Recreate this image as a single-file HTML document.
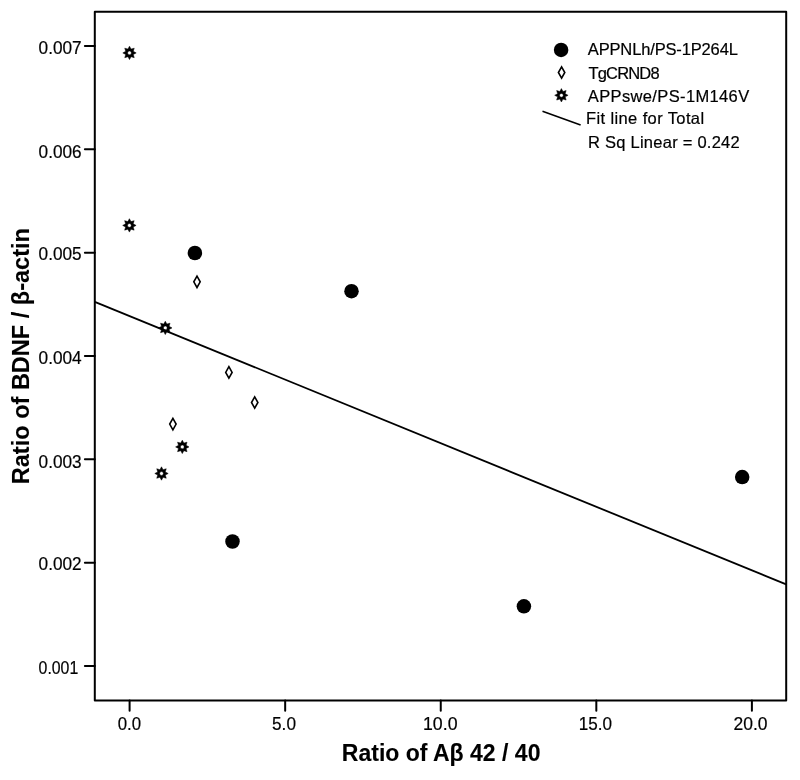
<!DOCTYPE html>
<html><head><meta charset="utf-8"><title>Scatter plot</title>
<style>
html,body{margin:0;padding:0;background:#fff;}
svg{display:block;}
text{font-family:"Liberation Sans",Arial,sans-serif;fill:#000;stroke:#000;stroke-width:0.2px;}
.b{stroke-width:0.1px;}
.b{font-weight:bold;}
</style></head>
<body>
<svg width="800" height="780" viewBox="0 0 800 780">
<rect width="800" height="780" fill="#fff"/>
<rect x="94.8" y="11.7" width="691.40" height="688.90" fill="none" stroke="#000" stroke-width="2.0" stroke-linejoin="round"/>
<line x1="84.9" y1="666.00" x2="94.8" y2="666.00" stroke="#000" stroke-width="2" stroke-linecap="round"/>
<line x1="84.9" y1="562.67" x2="94.8" y2="562.67" stroke="#000" stroke-width="2" stroke-linecap="round"/>
<line x1="84.9" y1="459.33" x2="94.8" y2="459.33" stroke="#000" stroke-width="2" stroke-linecap="round"/>
<line x1="84.9" y1="356.00" x2="94.8" y2="356.00" stroke="#000" stroke-width="2" stroke-linecap="round"/>
<line x1="84.9" y1="252.67" x2="94.8" y2="252.67" stroke="#000" stroke-width="2" stroke-linecap="round"/>
<line x1="84.9" y1="149.34" x2="94.8" y2="149.34" stroke="#000" stroke-width="2" stroke-linecap="round"/>
<line x1="84.9" y1="46.00" x2="94.8" y2="46.00" stroke="#000" stroke-width="2" stroke-linecap="round"/>
<line x1="129.60" y1="700.6" x2="129.60" y2="710.8" stroke="#000" stroke-width="2" stroke-linecap="round"/>
<line x1="285.17" y1="700.6" x2="285.17" y2="710.8" stroke="#000" stroke-width="2" stroke-linecap="round"/>
<line x1="440.75" y1="700.6" x2="440.75" y2="710.8" stroke="#000" stroke-width="2" stroke-linecap="round"/>
<line x1="596.32" y1="700.6" x2="596.32" y2="710.8" stroke="#000" stroke-width="2" stroke-linecap="round"/>
<line x1="751.90" y1="700.6" x2="751.90" y2="710.8" stroke="#000" stroke-width="2" stroke-linecap="round"/>
<line x1="94.8" y1="301.8" x2="786.2" y2="584.4" stroke="#000" stroke-width="1.8"/>
<circle cx="194.90" cy="253.00" r="7.25" fill="#000"/>
<circle cx="351.50" cy="291.20" r="7.25" fill="#000"/>
<circle cx="232.50" cy="541.50" r="7.25" fill="#000"/>
<circle cx="523.90" cy="606.30" r="7.25" fill="#000"/>
<circle cx="742.20" cy="477.10" r="7.25" fill="#000"/>
<path d="M197.00,276.10 L200.20,281.80 L197.00,287.50 L193.80,281.80 Z" fill="#fff" stroke="#000" stroke-width="1.6"/>
<path d="M228.90,366.70 L232.10,372.40 L228.90,378.10 L225.70,372.40 Z" fill="#fff" stroke="#000" stroke-width="1.6"/>
<path d="M254.70,396.80 L257.90,402.50 L254.70,408.20 L251.50,402.50 Z" fill="#fff" stroke="#000" stroke-width="1.6"/>
<path d="M172.90,418.40 L176.10,424.10 L172.90,429.80 L169.70,424.10 Z" fill="#fff" stroke="#000" stroke-width="1.6"/>
<path d="M129.50,46.20 L131.07,49.11 L134.24,48.16 L133.29,51.33 L136.20,52.90 L133.29,54.47 L134.24,57.64 L131.07,56.69 L129.50,59.60 L127.93,56.69 L124.76,57.64 L125.71,54.47 L122.80,52.90 L125.71,51.33 L124.76,48.16 L127.93,49.11 Z M127.60,52.90 a1.9,1.9 0 1,0 3.8,0 a1.9,1.9 0 1,0 -3.8,0 Z" fill="#000" fill-rule="evenodd" stroke="#000" stroke-width="0.5" stroke-linejoin="round"/>
<path d="M129.40,218.70 L130.97,221.61 L134.14,220.66 L133.19,223.83 L136.10,225.40 L133.19,226.97 L134.14,230.14 L130.97,229.19 L129.40,232.10 L127.83,229.19 L124.66,230.14 L125.61,226.97 L122.70,225.40 L125.61,223.83 L124.66,220.66 L127.83,221.61 Z M127.50,225.40 a1.9,1.9 0 1,0 3.8,0 a1.9,1.9 0 1,0 -3.8,0 Z" fill="#000" fill-rule="evenodd" stroke="#000" stroke-width="0.5" stroke-linejoin="round"/>
<path d="M165.30,321.20 L166.87,324.11 L170.04,323.16 L169.09,326.33 L172.00,327.90 L169.09,329.47 L170.04,332.64 L166.87,331.69 L165.30,334.60 L163.73,331.69 L160.56,332.64 L161.51,329.47 L158.60,327.90 L161.51,326.33 L160.56,323.16 L163.73,324.11 Z M163.40,327.90 a1.9,1.9 0 1,0 3.8,0 a1.9,1.9 0 1,0 -3.8,0 Z" fill="#000" fill-rule="evenodd" stroke="#000" stroke-width="0.5" stroke-linejoin="round"/>
<path d="M182.30,440.20 L183.87,443.11 L187.04,442.16 L186.09,445.33 L189.00,446.90 L186.09,448.47 L187.04,451.64 L183.87,450.69 L182.30,453.60 L180.73,450.69 L177.56,451.64 L178.51,448.47 L175.60,446.90 L178.51,445.33 L177.56,442.16 L180.73,443.11 Z M180.40,446.90 a1.9,1.9 0 1,0 3.8,0 a1.9,1.9 0 1,0 -3.8,0 Z" fill="#000" fill-rule="evenodd" stroke="#000" stroke-width="0.5" stroke-linejoin="round"/>
<path d="M161.50,466.80 L163.07,469.71 L166.24,468.76 L165.29,471.93 L168.20,473.50 L165.29,475.07 L166.24,478.24 L163.07,477.29 L161.50,480.20 L159.93,477.29 L156.76,478.24 L157.71,475.07 L154.80,473.50 L157.71,471.93 L156.76,468.76 L159.93,469.71 Z M159.60,473.50 a1.9,1.9 0 1,0 3.8,0 a1.9,1.9 0 1,0 -3.8,0 Z" fill="#000" fill-rule="evenodd" stroke="#000" stroke-width="0.5" stroke-linejoin="round"/>
<circle cx="561.10" cy="49.90" r="7.25" fill="#000"/>
<path d="M561.60,66.80 L564.80,72.50 L561.60,78.20 L558.40,72.50 Z" fill="#fff" stroke="#000" stroke-width="1.6"/>
<path d="M561.40,88.60 L562.97,91.51 L566.14,90.56 L565.19,93.73 L568.10,95.30 L565.19,96.87 L566.14,100.04 L562.97,99.09 L561.40,102.00 L559.83,99.09 L556.66,100.04 L557.61,96.87 L554.70,95.30 L557.61,93.73 L556.66,90.56 L559.83,91.51 Z M559.50,95.30 a1.9,1.9 0 1,0 3.8,0 a1.9,1.9 0 1,0 -3.8,0 Z" fill="#000" fill-rule="evenodd" stroke="#000" stroke-width="0.5" stroke-linejoin="round"/>
<line x1="542.5" y1="111.3" x2="580.6" y2="124.9" stroke="#000" stroke-width="1.6"/>
<text id="0.001" class="r" font-size="18" x="38.59" y="673.95" textLength="39.68" lengthAdjust="spacingAndGlyphs">0.001</text>
<text id="0.002" class="r" font-size="18" x="38.57" y="570.33" textLength="43.04" lengthAdjust="spacingAndGlyphs">0.002</text>
<text id="0.003" class="r" font-size="18" x="38.57" y="467.57" textLength="43.04" lengthAdjust="spacingAndGlyphs">0.003</text>
<text id="0.004" class="r" font-size="18" x="38.57" y="363.95" textLength="43.13" lengthAdjust="spacingAndGlyphs">0.004</text>
<text id="0.005" class="r" font-size="18" x="38.57" y="260.33" textLength="43.04" lengthAdjust="spacingAndGlyphs">0.005</text>
<text id="0.006" class="r" font-size="18" x="38.57" y="157.71" textLength="43.04" lengthAdjust="spacingAndGlyphs">0.006</text>
<text id="0.007" class="r" font-size="18" x="38.57" y="53.95" textLength="43.04" lengthAdjust="spacingAndGlyphs">0.007</text>
<text id="0.0" class="r" font-size="18" x="117.69" y="730.25" textLength="23.33" lengthAdjust="spacingAndGlyphs">0.0</text>
<text id="5.0" class="r" font-size="18" x="272.07" y="729.72" textLength="23.89" lengthAdjust="spacingAndGlyphs">5.0</text>
<text id="10.0" class="r" font-size="18" x="423.00" y="730.20" textLength="34.50" lengthAdjust="spacingAndGlyphs">10.0</text>
<text id="15.0" class="r" font-size="18" x="578.86" y="730.20" textLength="33.27" lengthAdjust="spacingAndGlyphs">15.0</text>
<text id="20.0" class="r" font-size="18" x="733.58" y="729.55" textLength="34.02" lengthAdjust="spacingAndGlyphs">20.0</text>
<text id="leg1" class="r" font-size="16.5" x="587.79" y="55.15" textLength="150.08" lengthAdjust="spacing">APPNLh/PS-1P264L</text>
<text id="leg2" class="r" font-size="16.5" x="588.50" y="78.60" textLength="71.12" lengthAdjust="spacing">TgCRND8</text>
<text id="leg3" class="r" font-size="16.5" x="587.78" y="101.60" textLength="161.40" lengthAdjust="spacing">APPswe/PS-1M146V</text>
<text id="leg4" class="r" font-size="16.5" x="585.98" y="123.90" textLength="118.13" lengthAdjust="spacing">Fit line for Total</text>
<text id="leg5" class="r" font-size="16.5" x="588.01" y="147.60" textLength="151.73" lengthAdjust="spacing">R Sq Linear = 0.242</text>
<text id="xtitle" class="b" font-size="24.5" x="341.80" y="761.05" textLength="198.64" lengthAdjust="spacingAndGlyphs">Ratio of A&#946; 42 / 40</text>
<text id="ytitle" class="b" font-size="24.5" transform="translate(29.25,484.21) rotate(-90)" x="0" y="0" textLength="256.15" lengthAdjust="spacingAndGlyphs">Ratio of BDNF / &#946;-actin</text>
</svg>
</body></html>
